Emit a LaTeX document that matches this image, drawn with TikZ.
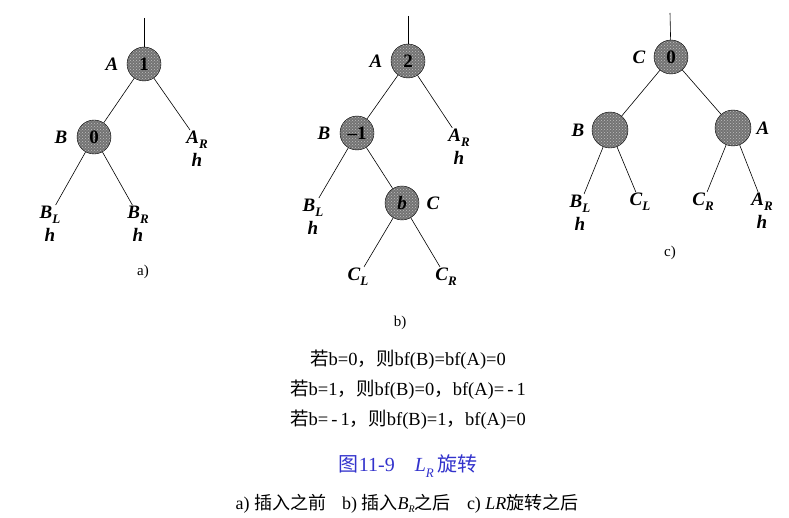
\documentclass[tikz,border=0pt]{standalone}
\usepackage{fontspec}
\setmainfont{Liberation Serif}
\newfontfamily\cjk{Noto Sans CJK SC}
\usetikzlibrary{patterns, positioning}
\definecolor{capblue}{RGB}{51,51,204}
\newcommand{\lsub}[2]{\textit{#1}\raisebox{-0.6ex}{\fontsize{13}{13}\selectfont\textit{#2}}}
\tikzstyle{avl} = [
    circle,
    draw = black,
    minimum size = 34pt,
    inner sep = 0pt,
    preaction = {fill = black!55},
    pattern = crosshatch dots,
    pattern color = white!75!black,
    font = \fontsize{19}{19}\selectfont\bfseries
]
\tikzstyle{tag} = [
    inner sep = 1pt,
    font = \fontsize{19}{21}\selectfont\bfseries\itshape
]
\tikzstyle{part} = [font = \fontsize{15}{17}\selectfont]
\tikzstyle{note} = [font = \fontsize{18.5}{20}\selectfont]
\tikzstyle{edge} = [line width = 0.6pt]

\begin{document}
\begin{tikzpicture}[x = 1pt, y = -1pt]
    \useasboundingbox (0,0) rectangle (789,518);

    % a) before insertion
    \coordinate (a top) at (144,18);
    \node (aA) [avl] at (144,64) {1};
    \node (aA tag) [tag] at (112,64) {A};
    \node (aB) [avl] at (94,137) {0};
    \node (aB tag) [tag] at (61,137) {B};
    \node (aAR) [tag] at (197,140) {\lsub{A}{R}};
    \node (aAR h) [tag, below = 2pt of aAR] {h};
    \node (aBL) [tag] at (50,215) {\lsub{B}{L}};
    \node (aBL h) [tag, below = 2pt of aBL] {h};
    \node (aBR) [tag] at (138,215) {\lsub{B}{R}};
    \node (aBR h) [tag, below = 2pt of aBR] {h};
    \node (a cap) [part] at (143,272) {a)};

    \draw [edge] (a top) -- (aA);
    \draw [edge] (aA) -- (aB);
    \draw [edge] (aA) -- (aAR);
    \draw [edge] (aB) -- (aBL);
    \draw [edge] (aB) -- (aBR);

    % b) after insertion
    \coordinate (b top) at (408,16);
    \node (bA) [avl] at (408,61) {2};
    \node (bA tag) [tag] at (376,61) {A};
    \node (bB) [avl] at (357,133) {--1};
    \node (bB tag) [tag] at (324,133) {B};
    \node (bAR) [tag] at (459,138) {\lsub{A}{R}};
    \node (bAR h) [tag, below = 2pt of bAR] {h};
    \node (bBL) [tag] at (313,208) {\lsub{B}{L}};
    \node (bBL h) [tag, below = 2pt of bBL] {h};
    \node (bC) [avl] at (402,203) {\itshape b};
    \node (bC tag) [tag] at (433,203) {C};
    \node (bCL) [tag] at (358,277) {\lsub{C}{L}};
    \node (bCR) [tag] at (446,277) {\lsub{C}{R}};
    \node (b cap) [part] at (400,323) {b)};

    \draw [edge] (b top) -- (bA);
    \draw [edge] (bA) -- (bB);
    \draw [edge] (bA) -- (bAR);
    \draw [edge] (bB) -- (bBL);
    \draw [edge] (bB) -- (bC);
    \draw [edge] (bC) -- (bCL);
    \draw [edge] (bC) -- (bCR);

    % c) after LR rotation
    \coordinate (c top) at (670,13);
    \node (cC) [avl] at (671,57) {0};
    \node (cC tag) [tag] at (639,57) {C};
    \node (cB) [avl, minimum size = 36pt] at (610,130) {};
    \node (cB tag) [tag] at (578,130) {B};
    \node (cA) [avl, minimum size = 36pt] at (733,128) {};
    \node (cA tag) [tag] at (763,128) {A};
    \node (cBL) [tag] at (580,204) {\lsub{B}{L}};
    \node (cBL h) [tag, below = 2pt of cBL] {h};
    \node (cCL) [tag] at (640,202) {\lsub{C}{L}};
    \node (cCR) [tag] at (703,202) {\lsub{C}{R}};
    \node (cAR) [tag] at (762,202) {\lsub{A}{R}};
    \node (cAR h) [tag, below = 2pt of cAR] {h};
    \node (c cap) [part] at (670,253) {c)};

    \draw [edge] (c top) -- (cC);
    \draw [edge] (cC) -- (cB);
    \draw [edge] (cC) -- (cA);
    \draw [edge] (cB) -- (cBL);
    \draw [edge] (cB) -- (cCL);
    \draw [edge] (cA) -- (cCR);
    \draw [edge] (cA) -- (cAR);

    % balance factors and caption
    \node (rule one) [note] at (408,360)
        {{\cjk 若}b=0{\cjk ，则}bf(B)=bf(A)=0};
    \node (rule two) [note] at (408,390)
        {{\cjk 若}b=1{\cjk ，则}bf(B)=0{\cjk ，}bf(A)=\,-\,1};
    \node (rule three) [note] at (408,420)
        {{\cjk 若}b=\,-\,1{\cjk ，则}bf(B)=1{\cjk ，}bf(A)=0};
    \node (title) [note, text = capblue, font = \fontsize{20}{22}\selectfont] at (408,466)
        {{\cjk 图}11-9\hspace{1em}\lsub{L}{R}\,{\cjk 旋转}};
    \node (legend) [note, font = \fontsize{18}{20}\selectfont] at (407,504)
        {a) {\cjk 插入之前}\hspace{0.9em}b) {\cjk 插入}\textit{B}\raisebox{-0.4ex}{\fontsize{10}{10}\selectfont\textit{R}}{\cjk 之后}\hspace{0.9em}c) \textit{LR}{\cjk 旋转之后}};
\end{tikzpicture}
\end{document}
